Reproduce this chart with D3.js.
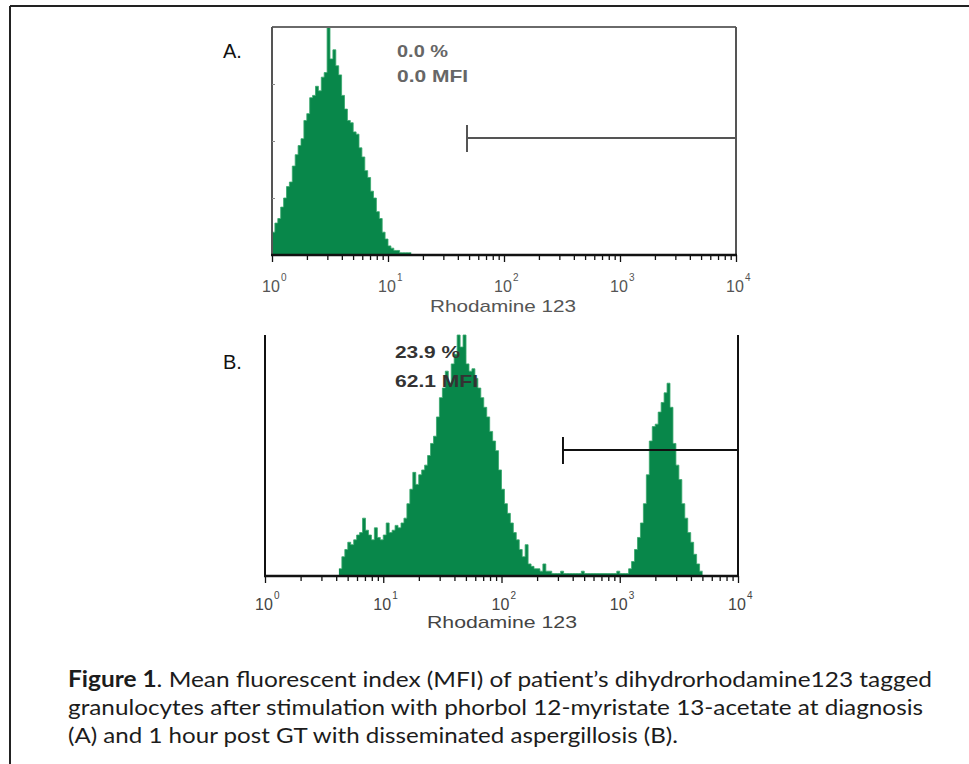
<!DOCTYPE html>
<html><head><meta charset="utf-8">
<script src="https://cdn.jsdelivr.net/npm/d3@7"></script>
<style>body{margin:0;background:#fff}svg{display:block}</style>
</head><body>
<svg id="fig" width="969" height="764"></svg>
<script>
// channel counts, 40 channels per decade, scaled so tallest channel = 100
const binsPerDecade = 40;
const firstBinA = 0;
const countsA = [10,14,16,21,25,30,32,39,44,48, 51,59,62,69,70,74,72,78,80,100,
                 86,90,83,79,70,64,59,58,54,53, 47,43,37,34,28,25,19,16,10,7,
                 4,3,2,2,1,1,1,1];
const firstBinB = 25;
const countsB = [3,8,11,14,13,15,17,18,24,19, 17,15,20,16,15,17,22,18,19,21,
                 20,22,24,30,36,43,38,42,44,46, 50,55,58,66,74,78,85,80,88,92,
                 100,95,100,88,85,86,82,78,74,70, 66,60,56,52,44,36,30,26,22,18,
                 15,11,8,13,5,4,3,3,2,5, 2,2,1,1,1,2,1,1,1,1,
                 1,1,2,1,1,1,1,1,1,1, 1,1,1,1,2,1,1,1,3,6,
                 11,16,22,30,42,56,62,63,68,72, 76,80,70,55,46,40,30,24,18,14,
                 9,5,2];
const gateA = [48, 10000];
const gateB = [331, 10000];
const statsA = ["0.0 %", "0.0 MFI"];
const statsB = ["23.9 %", "62.1 MFI"];
const decades = [1, 10, 100, 1000, 10000];
const exponents = ["0", "1", "2", "3", "4"];
const axisTitle = "Rhodamine 123";
const captionBold = "Figure 1";
const captionLines = [
  ". Mean fluorescent index (MFI) of patient\u2019s dihydrorhodamine123 tagged",
  "granulocytes after stimulation with phorbol 12-myristate 13-acetate at diagnosis",
  "(A) and 1 hour post GT with disseminated aspergillosis (B)."
];

const svg = d3.select("#fig");
const green = "#08874a";

// page frame (left and top rules)
svg.append("line").attr("x1", 10).attr("x2", 10).attr("y1", 6).attr("y2", 764)
  .attr("stroke", "#222").attr("stroke-width", 2);
svg.append("line").attr("x1", 10).attr("x2", 969).attr("y1", 6).attr("y2", 6)
  .attr("stroke", "#222").attr("stroke-width", 2);

function drawPanel(p) {
  const g = svg.append("g");
  const x = d3.scaleLog().domain([1, 10000]).range([p.left, p.right]);
  const y = d3.scaleLinear().domain([0, 100]).range([p.bottom, p.top]);

  // histogram as a stepped area
  const pts = p.counts.map((c, i) => ({ v: Math.pow(10, (p.first + i) / binsPerDecade), c: c }));
  pts.push({ v: Math.pow(10, (p.first + p.counts.length) / binsPerDecade), c: p.counts[p.counts.length - 1] });
  g.append("path").datum(pts)
    .attr("fill", green)
    .attr("d", d3.area().curve(d3.curveStepAfter).x(d => x(d.v)).y0(y(0)).y1(d => y(d.c)));
  g.append("path").datum(pts)
    .attr("fill", "none").attr("stroke", "#37a86b").attr("stroke-width", 1).attr("opacity", 0.8)
    .attr("d", d3.line().curve(d3.curveStepAfter).x(d => x(d.v)).y(d => y(d.c)));

  // frame lines
  if (p.boxed) {
    g.append("line").attr("x1", p.left).attr("x2", p.right).attr("y1", p.top).attr("y2", p.top)
      .attr("stroke", "#6a6a6a").attr("stroke-width", 2);
  }
  g.append("line").attr("x1", p.left).attr("x2", p.left).attr("y1", p.top).attr("y2", p.bottom)
    .attr("stroke", p.sideColor).attr("stroke-width", p.sideWidth);
  g.append("line").attr("x1", p.right).attr("x2", p.right).attr("y1", p.top).attr("y2", p.bottom)
    .attr("stroke", p.sideColor).attr("stroke-width", p.sideWidth);

  if (p.boxed) {
    const ya = g.append("g").attr("transform", "translate(" + p.left + ",0)")
      .call(d3.axisRight(y).tickValues([25, 50, 75]).tickSize(3).tickFormat(""));
    ya.select(".domain").remove();
    ya.selectAll("line").attr("stroke", "#888");
  }

  // x axis: log minor and decade ticks
  const minors = [];
  decades.slice(0, 4).forEach(d => d3.range(2, 10).forEach(k => minors.push(d * k)));
  const ax = g.append("g").attr("transform", "translate(0," + p.bottom + ")");
  ax.append("g").call(d3.axisBottom(x).tickValues(minors).tickSize(5).tickSizeOuter(0).tickFormat(""));
  ax.append("g").call(d3.axisBottom(x).tickValues(decades).tickSize(7).tickSizeOuter(0).tickFormat(""));
  ax.selectAll(".domain").remove();
  ax.selectAll("line").attr("stroke", "#111").attr("stroke-width", 1.3);
  g.append("line").attr("x1", p.left - 1).attr("x2", p.right + 1).attr("y1", p.bottom).attr("y2", p.bottom)
    .attr("stroke", "#111").attr("stroke-width", 2.5);

  // decade labels 10^n
  decades.forEach((d, i) => {
    g.append("text").attr("x", x(d) - 1).attr("y", p.labelY)
      .attr("text-anchor", "middle").attr("font-family", "Liberation Sans, Arial, sans-serif")
      .attr("font-size", 16).attr("fill", p.textColor).text("10");
    g.append("text").attr("x", x(d) + 9).attr("y", p.labelY - 11)
      .attr("font-family", "Liberation Sans, Arial, sans-serif")
      .attr("font-size", 10).attr("fill", p.textColor).text(exponents[i]);
  });
  g.append("text").attr("x", p.titleX).attr("y", p.titleY)
    .attr("font-family", "Liberation Sans, Arial, sans-serif").attr("font-size", 17)
    .attr("fill", p.textColor).attr("textLength", p.titleW).attr("lengthAdjust", "spacingAndGlyphs")
    .text(axisTitle);

  // gate marker
  g.append("line").attr("x1", x(p.gate[0])).attr("x2", x(p.gate[1])).attr("y1", p.gateY).attr("y2", p.gateY)
    .attr("stroke", p.sideColor).attr("stroke-width", 2);
  g.append("line").attr("x1", x(p.gate[0])).attr("x2", x(p.gate[0]))
    .attr("y1", p.gateY - 13).attr("y2", p.gateY + 14)
    .attr("stroke", p.sideColor).attr("stroke-width", 2);

  // panel letter and stats
  g.append("text").attr("x", 223).attr("y", p.letterY)
    .attr("font-family", "Liberation Sans, Arial, sans-serif").attr("font-size", 20)
    .attr("fill", "#111").text(p.letter);
  p.stats.forEach((s, i) => {
    g.append("text").attr("x", p.statX).attr("y", p.statY[i])
      .attr("font-family", "Liberation Sans, Arial, sans-serif").attr("font-size", 17)
      .attr("font-weight", "bold").attr("fill", p.statColor)
      .attr("textLength", p.statW[i]).attr("lengthAdjust", "spacingAndGlyphs")
      .text(s);
  });
}

drawPanel({
  letter: "A.", letterY: 58, left: 272, right: 736, top: 27, bottom: 255,
  first: firstBinA, counts: countsA, boxed: true, sideColor: "#555", sideWidth: 2,
  textColor: "#555", labelY: 292, titleX: 430, titleY: 312, titleW: 146,
  gate: gateA, gateY: 138, stats: statsA, statX: 397, statY: [57, 82], statW: [51, 71],
  statColor: "#666"
});
drawPanel({
  letter: "B.", letterY: 369, left: 265, right: 738, top: 335, bottom: 576,
  first: firstBinB, counts: countsB, boxed: false, sideColor: "#111", sideWidth: 2,
  textColor: "#444", labelY: 610, titleX: 427, titleY: 628, titleW: 150,
  gate: gateB, gateY: 450, stats: statsB, statX: 395, statY: [358, 387], statW: [65, 83],
  statColor: "#333"
});

// caption
const capW = [864, 855, 610];
const capY = [687, 715, 743];
captionLines.forEach((line, i) => {
  const t = svg.append("text").attr("x", 68).attr("y", capY[i])
    .attr("font-family", "Lato, 'Open Sans', sans-serif").attr("font-size", 22)
    .attr("fill", "#1c1c1c").attr("textLength", capW[i]).attr("lengthAdjust", "spacingAndGlyphs");
  if (i === 0) t.append("tspan").attr("font-weight", "bold").text(captionBold);
  t.append("tspan").text(line);
});
</script>
</body></html>
